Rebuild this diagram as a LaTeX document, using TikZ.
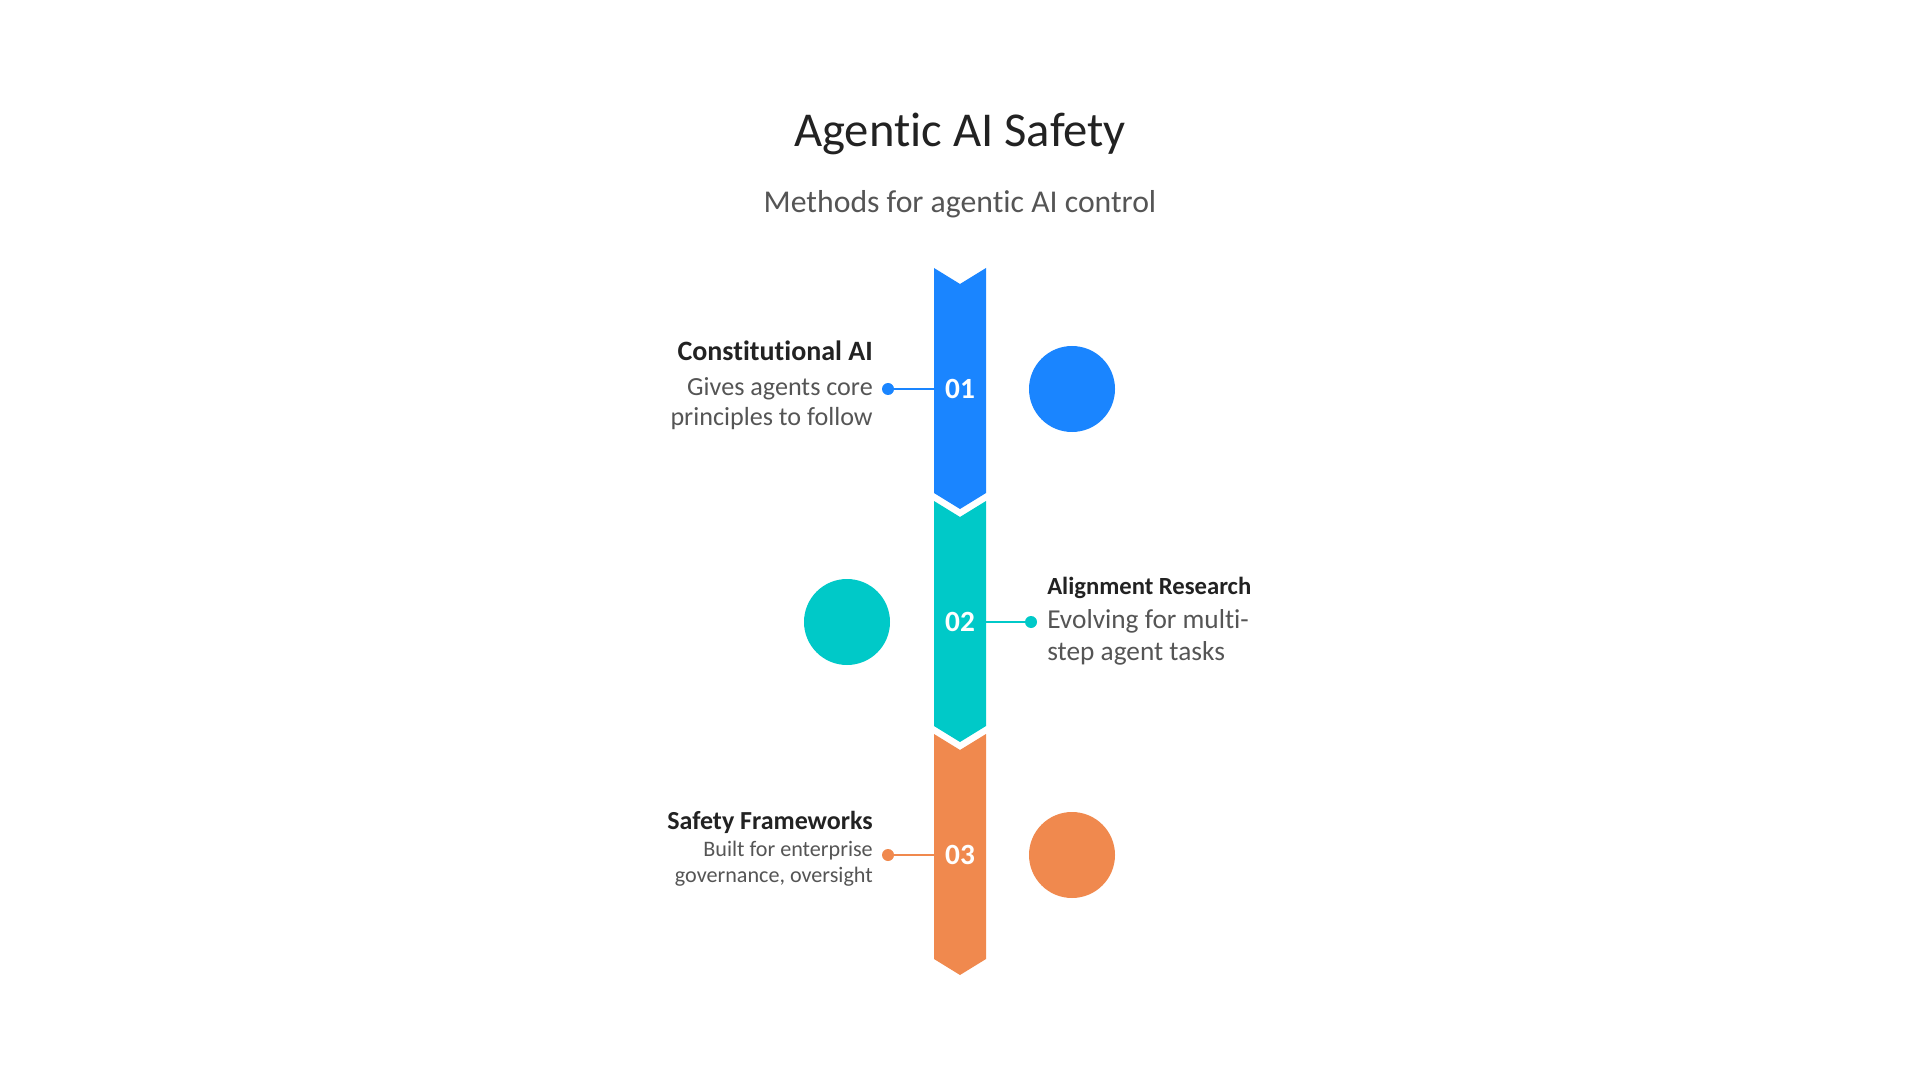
\documentclass[tikz,border=0pt]{standalone}
\usepackage{fontspec}
\setmainfont{Carlito}[Ligatures=NoCommon]
\usetikzlibrary{positioning}
\definecolor{azure}{HTML}{1A85FF}
\definecolor{aqua}{HTML}{00C9C8}
\definecolor{amber}{HTML}{F0894E}
\definecolor{ink}{HTML}{222222}
\definecolor{slate}{HTML}{555555}

\tikzset{
  numlabel/.style={text=white,inner sep=0pt,font=\fontsize{22}{24}\selectfont\bfseries},
  head/.style={text=ink,inner sep=0pt},
  desc/.style={text=slate,inner sep=0pt},
  dot/.style={circle,inner sep=0pt,minimum size=9pt},
  blob/.style={circle,inner sep=0pt,minimum size=64.5pt},
  link/.style={line width=2pt}
}

\begin{document}
\begin{tikzpicture}[x=0.75pt,y=-0.75pt]
  \fill[white] (0,0) rectangle (1920,1080);
  \useasboundingbox (0,0) rectangle (1920,1080);

  % title
  \node[text=ink,anchor=base,font=\fontsize{36.5}{40}\selectfont] (title) at (960,147) {Agentic AI Safety};
  \node[text=slate,anchor=base,font=\fontsize{23.8}{28}\selectfont] (subtitle) at (960,213) {Methods for agentic AI control};

  % chevron column
  \foreach \col [count=\i from 0] in {azure,aqua,amber} {
    \pgfmathsetmacro\ytop{268+233*\i}
    \fill[\col] (934,\ytop) -- (960,\ytop+16) -- (986,\ytop)
      -- (986,\ytop+225) -- (960,\ytop+241) -- (934,\ytop+225) -- cycle;
  }

  \node[numlabel] (n1) at (960,389) {01};
  \node[numlabel] (n2) at (960,622) {02};
  \node[numlabel] (n3) at (960,855) {03};

  % circles
  \node[blob,fill=azure] (c1) at (1072,389) {};
  \node[blob,fill=aqua] (c2) at (847,622) {};
  \node[blob,fill=amber] (c3) at (1072,855) {};

  % connectors
  \node[dot,fill=azure] (p1) at (888,389) {};
  \node[dot,fill=aqua] (p2) at (1031,622) {};
  \node[dot,fill=amber] (p3) at (888,855) {};
  \coordinate (e1) at (934,389);
  \coordinate (e2) at (986,622);
  \coordinate (e3) at (934,855);
  \draw[link,azure] (p1) -- (e1);
  \draw[link,aqua] (p2) -- (e2);
  \draw[link,amber] (p3) -- (e3);

  % texts
  \node[head,anchor=base east,font=\fontsize{21}{24}\selectfont\bfseries] (h1) at (873,361) {Constitutional AI};
  \node[desc,align=right,anchor=base east,font=\fontsize{19.6}{22.5}\selectfont] (d1) at (873,426) {Gives agents core\\principles to follow};

  \node[head,anchor=base west,font=\fontsize{18.5}{22}\selectfont\bfseries] (h2) at (1047,594) {Alignment Research};
  \node[desc,align=left,anchor=base west,font=\fontsize{20.5}{24}\selectfont] (d2) at (1047,660) {Evolving for multi-\\step agent tasks};

  \node[head,anchor=base east,font=\fontsize{19.5}{22}\selectfont\bfseries] (h3) at (873,829) {Safety Frameworks};
  \node[desc,align=right,anchor=base east,font=\fontsize{16.6}{19}\selectfont] (d3) at (873,882) {Built for enterprise\\governance, oversight};
\end{tikzpicture}
\end{document}
